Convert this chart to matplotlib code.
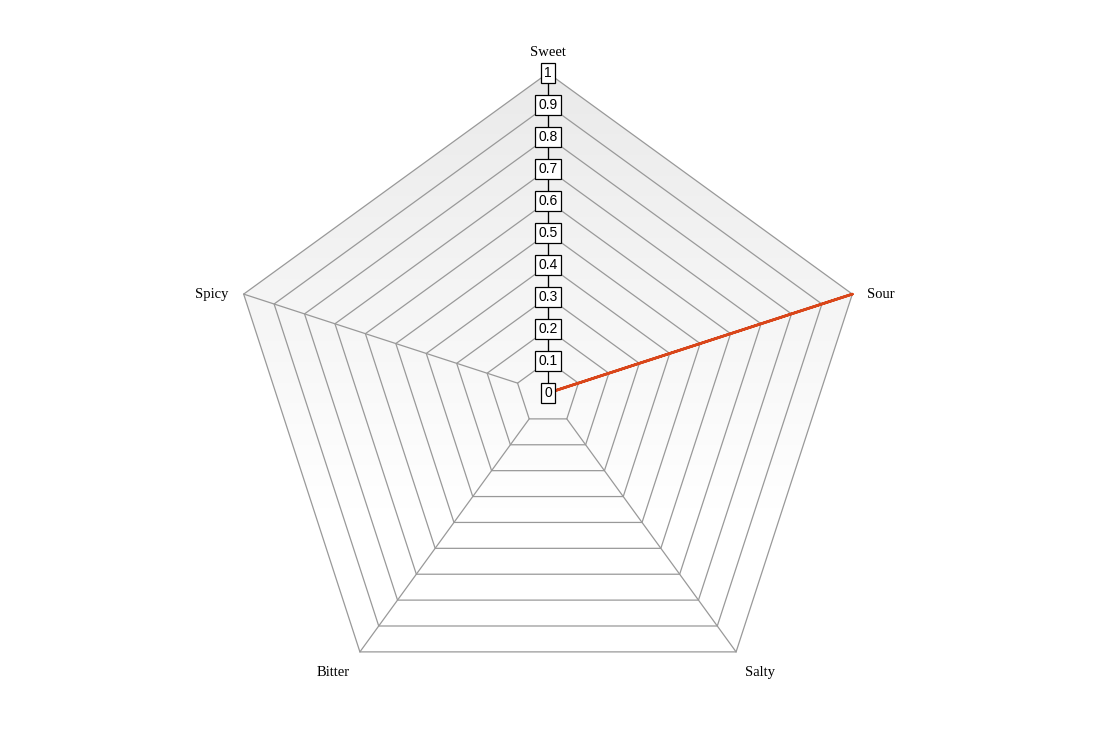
import numpy as np
import matplotlib
matplotlib.use("Agg")
import matplotlib.pyplot as plt
from matplotlib.patches import Polygon

# radar data
categories = ['Sweet', 'Sour', 'Salty', 'Bitter', 'Spicy']
values = [0, 1, 0, 0, 0]
levels = [0.1, 0.2, 0.3, 0.4, 0.5, 0.6, 0.7, 0.8, 0.9, 1.0]
tick_labels = ['0', '0.1', '0.2', '0.3', '0.4', '0.5', '0.6', '0.7', '0.8', '0.9', '1']

plt.rcParams['font.family'] = ['Liberation Serif', 'DejaVu Serif']

n = len(categories)
# start at top, go clockwise
angles = np.pi / 2 - np.arange(n) * 2 * np.pi / n


def to_xy(r):
    r = np.asarray(r, dtype=float)
    return r * np.cos(angles), r * np.sin(angles)


fig = plt.figure(figsize=(10.95, 7.47), dpi=100)
ax = fig.add_axes([0, 0, 1, 1])
scale = 320.0
cx, cy = 548.0, 393.0
ax.set_xlim(-cx / scale, (1095 - cx) / scale)
ax.set_ylim(-(747 - cy) / scale, cy / scale)
ax.axis('off')

# gradient background inside the outer pentagon
ox, oy = to_xy(np.ones(n))
outer = Polygon(np.column_stack([ox, oy]), closed=True, facecolor='none', edgecolor='none')
ax.add_patch(outer)
grad = np.linspace(0, 1, 256).reshape(-1, 1)
top_c = np.array([0.918, 0.918, 0.918])
bot_c = np.array([1.0, 1.0, 1.0])
t = np.clip(grad / 0.75, 0, 1)
img = top_c + (bot_c - top_c) * t
img = np.repeat(img[:, :, None].transpose(0, 2, 1), 2, axis=1)
im = ax.imshow(img, extent=[ox.min(), ox.max(), oy.min(), oy.max()],
               origin='upper', aspect='auto', zorder=0, interpolation='bilinear')
im.set_clip_path(outer)

# rings
for lv in levels:
    x, y = to_xy(np.full(n, lv))
    ax.plot(np.append(x, x[0]), np.append(y, y[0]), color='#999999', lw=0.9, zorder=1)

# spokes between first and last ring
x0, y0 = to_xy(np.full(n, levels[0]))
x1, y1 = to_xy(np.full(n, levels[-1]))
for i in range(n):
    ax.plot([x0[i], x1[i]], [y0[i], y1[i]], color='#999999', lw=0.9, zorder=1)

# data
dx, dy = to_xy(values)
ax.plot(np.append(dx, dx[0]), np.append(dy, dy[0]), color='#d9461a', lw=1.9,
        solid_capstyle='round', zorder=3)

# value axis along the first category
ax.plot([0, 0], [0, 1], color='black', lw=0.9, zorder=4)
for k, lab in enumerate(tick_labels):
    ax.text(0, k / 10, lab, ha='center', va='center', fontsize=10, zorder=5,
            family=['Liberation Sans', 'DejaVu Sans'],
            bbox=dict(boxstyle='square,pad=0.25', facecolor='white', edgecolor='black', lw=0.9))

# category labels
offsets = [(0, 20), (28, 0), (24, -21), (-27, -21), (-32, 0)]
for i, cat in enumerate(categories):
    ax.text(ox[i] + offsets[i][0] / scale, oy[i] + offsets[i][1] / scale, cat,
            ha='center', va='center', fontsize=10.5)

fig.savefig('out.png', dpi=100)
